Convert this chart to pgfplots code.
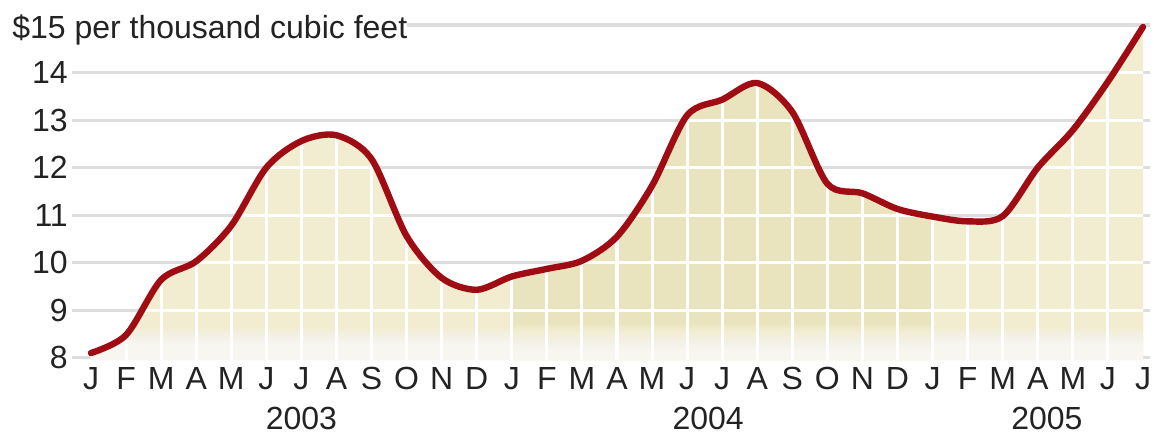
\documentclass[border=0pt]{standalone}
\usepackage{fontspec}
\setmainfont{Liberation Sans}
\usepackage{pgfplots}
\pgfplotsset{compat=1.18}
\usepackage{pgfplotstable}

\definecolor{redline}{RGB}{160,12,20}
\definecolor{cA}{RGB}{242,237,208}
\definecolor{cB}{RGB}{234,228,190}
\definecolor{fadeW}{RGB}{247,246,241}
\definecolor{fadeM}{RGB}{243,240,230}
\definecolor{gridgray}{RGB}{221,221,221}
\definecolor{txt}{RGB}{35,35,35}

\pgfdeclareverticalshading{fadeA}{100bp}{color(0bp)=(fadeW); color(40bp)=(fadeW); color(50bp)=(fadeM); color(60bp)=(cA); color(100bp)=(cA)}
\pgfdeclareverticalshading{fadeB}{100bp}{color(0bp)=(fadeW); color(34bp)=(fadeW); color(45bp)=(fadeM); color(56bp)=(cA); color(63bp)=(cB); color(100bp)=(cB)}

\pgfplotstableread{
i price
0 8.10
1 8.48
2 9.64
3 10.03
4 10.78
5 12.00
6 12.56
7 12.68
8 12.18
9 10.56
10 9.68
11 9.43
12 9.71
13 9.87
14 10.04
15 10.55
16 11.62
17 13.10
18 13.43
19 13.78
20 13.17
21 11.66
22 11.46
23 11.13
24 10.97
25 10.87
26 10.98
27 12.00
28 12.79
29 13.81
30 14.96
}\pricedata

\begin{document}
\begin{tikzpicture}
\begin{axis}[
  name=ax,
  scale only axis,
  width=808.5pt, height=254.9pt,
  xmin=-0.542, xmax=30.2,
  ymin=7.95, ymax=15.1,
  axis line style={draw=none},
  major tick length=0pt,
  tick style={draw=none},
  ytick={8,...,15},
  yticklabels={8,9,10,11,12,13,14,{}},
  ymajorgrids,
  grid style={gridgray, line width=2.3pt},
  xtick={0,...,30},
  xticklabels={J,F,M,A,M,J,J,A,S,O,N,D,J,F,M,A,M,J,J,A,S,O,N,D,J,F,M,A,M,J,J},
  extra x ticks={6,17.6,27.26},
  extra x tick labels={2003,2004,2005},
  extra x tick style={xticklabel style={yshift=-30pt}},
  tick label style={font=\fontsize{24}{28}\selectfont, text=txt, inner sep=0pt},
  yticklabel style={xshift=-3pt},
  xticklabel style={yshift=-5pt},
  /pgf/number format/assume math mode=true,
  clip=true,
]
% area under the curve, with the tinted years, bottom fade and white grid inside it
\addplot[draw=none, fill=cA, smooth, forget plot, path picture={
  \fill[cB, path picture={}] (axis cs:12,7) rectangle (axis cs:24,16);
  \shade[shading=fadeA, path picture={}] (axis cs:-1,7.95) rectangle (axis cs:12,8.968);
  \shade[shading=fadeB, path picture={}] (axis cs:12,7.95) rectangle (axis cs:24,8.968);
  \shade[shading=fadeA, path picture={}] (axis cs:24,7.95) rectangle (axis cs:31,8.968);
  \foreach \k in {9,...,14} {\draw[white, line width=2.3pt, path picture={}] (axis cs:-1,\k) -- (axis cs:31,\k);}
  \foreach \m in {1,...,29} {\draw[white, line width=2.3pt, path picture={}] (axis cs:\m,7) -- (axis cs:\m,16);}
}] table[x=i, y=price] {\pricedata} \closedcycle;

\addplot[redline, line width=4.8pt, smooth, line join=round, line cap=round, mark=none] table[x=i, y=price] {\pricedata};
\end{axis}
\node[anchor=base west, inner sep=0pt, fill=white, font=\fontsize{24}{28}\selectfont, text=txt]
  at ([xshift=-45pt, yshift=-13.56pt]ax.north west) {\$15 per thousand cubic feet\hspace{9pt}};
\pgfresetboundingbox
\path ([shift={(-54pt,-56.9pt)}]ax.south west) rectangle ([shift={(3pt,15.2pt)}]ax.north east);
\end{tikzpicture}
\end{document}
